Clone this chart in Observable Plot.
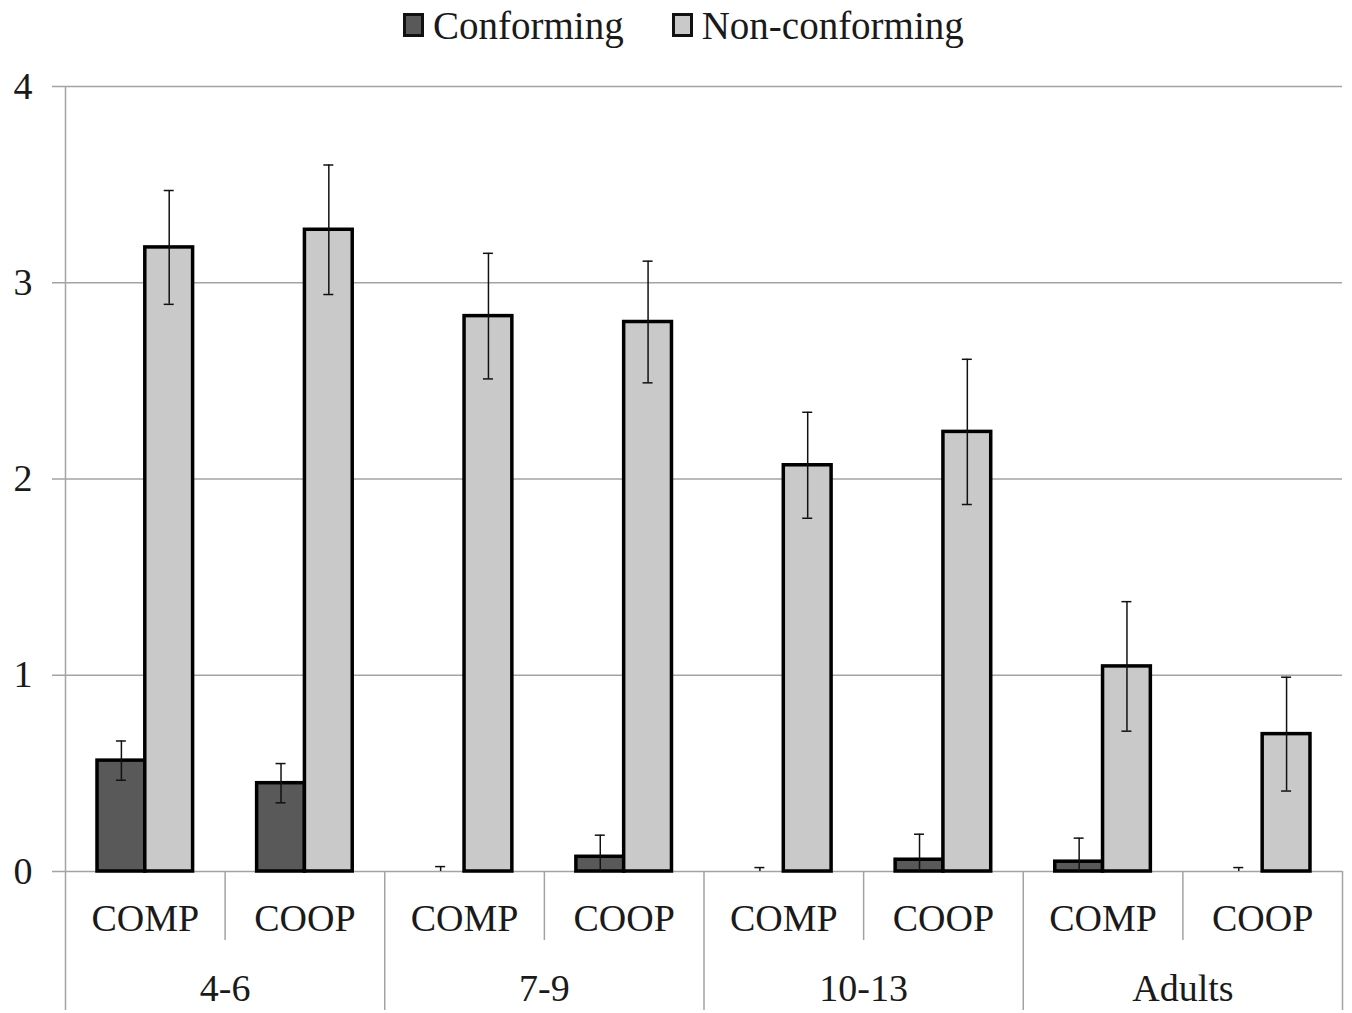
<!DOCTYPE html>
<html>
<head>
<meta charset="utf-8">
<script src="https://cdn.jsdelivr.net/npm/d3@7"></script>
<script src="https://cdn.jsdelivr.net/npm/@observablehq/plot@0.6"></script>
<style>
  html, body { margin: 0; padding: 0; background: white; }
  body { width: 1352px; height: 1013px; overflow: hidden; font-family: 'Liberation Serif', 'Times New Roman', serif; }
  #legend { height: 50px; display: flex; align-items: center; padding-left: 403px; box-sizing: border-box; font-size: 39px; color: #1a1a1a; }
  .item { display: flex; align-items: center; margin-right: 48px; }
  .sw { width: 21px; height: 24px; border: 3px solid #111; box-sizing: border-box; margin-right: 9px; }
</style>
</head>
<body>
<div id="legend"></div>
<div id="chart"></div>
<script>
const groups = ["4-6", "7-9", "10-13", "Adults"];
const conditions = ["COMP", "COOP"];
const seriesNames = ["Conforming", "Non-conforming"];
const seriesColors = ["#595959", "#c9c9c9"];
const conformingMean = [0.565, 0.45, 0, 0.075, 0, 0.06, 0.05, 0];
const conformingErr = [0.10, 0.10, 0.025, 0.11, 0.02, 0.13, 0.12, 0.02];
const nonConformingMean = [3.18, 3.27, 2.83, 2.80, 2.07, 2.24, 1.045, 0.70];
const nonConformingErr = [0.29, 0.33, 0.32, 0.31, 0.27, 0.37, 0.33, 0.29];
const yTicks = [0, 1, 2, 3, 4];

// legend
const legend = document.getElementById("legend");
seriesNames.forEach((name, i) => {
  const it = document.createElement("div");
  it.className = "item";
  const sw = document.createElement("div");
  sw.className = "sw";
  sw.style.background = seriesColors[i];
  const t = document.createElement("span");
  t.textContent = name;
  it.appendChild(sw); it.appendChild(t);
  legend.appendChild(it);
});

const rows = [];
groups.forEach((g, gi) => conditions.forEach((c, ci) => {
  const i = gi * conditions.length + ci;
  rows.push({
    key: g + "|" + c, group: g, cond: c,
    conf: conformingMean[i], confErr: conformingErr[i],
    non: nonConformingMean[i], nonErr: nonConformingErr[i]
  });
}));
const keys = rows.map(d => d.key);

const W = 1352, H = 963;
const mL = 65, mR = 10, mT = 36, mB = 142;
const bw = (W - mL - mR) / keys.length;
const plotH = H - mT - mB;
const a = 32, b = 79.8, c2 = 127.6; // bar edges within band
const cConf = (a + b) / 2, cNon = (b + c2) / 2;
const cap = 5;
const grid = "#a3a3a3";

const chart = Plot.plot({
  width: W, height: H,
  marginTop: mT, marginBottom: mB, marginLeft: mL, marginRight: mR,
  style: { fontFamily: "'Liberation Serif', 'Times New Roman', serif", fontSize: "38px", color: "#1a1a1a", background: "white", overflow: "visible" },
  x: { domain: keys, padding: 0, round: false, axis: null },
  y: { domain: [0, 4], axis: null },
  marks: [
    Plot.ruleY(yTicks, { y: d => d, stroke: grid, strokeWidth: 1.5, insetLeft: -13 }),
    Plot.axisY(yTicks, { tickSize: 0, tickPadding: 33, fontSize: 38, tickFormat: d => String(d) }),
    // separators
    Plot.ruleX([keys[0]], { x: d => d, dx: -bw / 2, stroke: grid, strokeWidth: 1.5, insetBottom: -139 }),
    Plot.ruleX(rows.filter(d => d.cond === "COMP" && d.key !== keys[0]), { x: "key", dx: -bw / 2, stroke: grid, strokeWidth: 1.5, insetTop: plotH, insetBottom: -139 }),
    Plot.ruleX(rows.filter(d => d.cond === "COOP"), { x: "key", dx: -bw / 2, stroke: grid, strokeWidth: 1.5, insetTop: plotH, insetBottom: -69 }),
    Plot.ruleX([keys[keys.length - 1]], { x: d => d, dx: bw / 2, stroke: grid, strokeWidth: 1.5, insetTop: plotH, insetBottom: -139 }),
    // bars
    Plot.barY(rows.filter(d => d.conf > 0), { x: "key", y: "conf", fill: seriesColors[0], stroke: "#000", strokeWidth: 3.5, insetLeft: a, insetRight: bw - b }),
    Plot.barY(rows, { x: "key", y: "non", fill: seriesColors[1], stroke: "#000", strokeWidth: 3.5, insetLeft: b, insetRight: bw - c2 }),
    // error bars
    Plot.ruleX(rows, { x: "key", y1: d => Math.max(0, d.conf - d.confErr), y2: d => d.conf + d.confErr, dx: cConf - bw / 2, stroke: "#111", strokeWidth: 1.5 }),
    Plot.tickY(rows, { x: "key", y: d => d.conf + d.confErr, insetLeft: cConf - cap, insetRight: bw - cConf - cap, stroke: "#111", strokeWidth: 1.5 }),
    Plot.tickY(rows, { x: "key", y: d => Math.max(0, d.conf - d.confErr), insetLeft: cConf - cap, insetRight: bw - cConf - cap, stroke: "#111", strokeWidth: 1.5, filter: d => d.conf - d.confErr > 0 }),
    Plot.ruleX(rows, { x: "key", y1: d => d.non - d.nonErr, y2: d => d.non + d.nonErr, dx: cNon - bw / 2, stroke: "#111", strokeWidth: 1.5 }),
    Plot.tickY(rows, { x: "key", y: d => d.non + d.nonErr, insetLeft: cNon - cap, insetRight: bw - cNon - cap, stroke: "#111", strokeWidth: 1.5 }),
    Plot.tickY(rows, { x: "key", y: d => d.non - d.nonErr, insetLeft: cNon - cap, insetRight: bw - cNon - cap, stroke: "#111", strokeWidth: 1.5 }),
    // x labels
    Plot.text(rows, { x: "key", text: "cond", frameAnchor: "bottom", dy: 47, lineAnchor: "middle", fontSize: 38, fill: "#1a1a1a" }),
    Plot.text(rows.filter(d => d.cond === "COMP"), { x: "key", text: "group", frameAnchor: "bottom", dx: bw / 2, dy: 117, lineAnchor: "middle", fontSize: 38, fill: "#1a1a1a" })
  ]
});
document.getElementById("chart").appendChild(chart);
</script>
</body>
</html>
